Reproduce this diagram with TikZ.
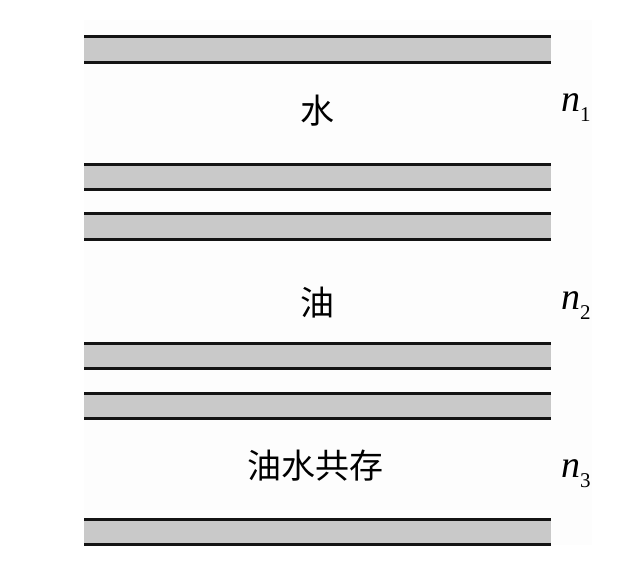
\documentclass[tikz,border=0pt]{standalone}
\usepackage{fontspec}
\setmainfont{Liberation Serif}
\newfontfamily\cjk{Noto Sans CJK SC}
\definecolor{bandgray}{HTML}{C9C9C9}
\definecolor{paper}{HTML}{FDFDFD}
\tikzset{
  bandfill/.style={fill=bandgray, draw=none},
  bandline/.style={line width=3pt, draw=black!92},
  zhlabel/.style={font=\cjk\fontsize{34}{40}\selectfont, anchor=base, inner sep=0pt},
  nlabel/.style={font=\fontsize{38}{44}\selectfont, anchor=base west, inner sep=0pt}
}
\newcommand{\nsub}[1]{\textit{n}\raisebox{-10pt}{\fontsize{21}{24}\selectfont #1}}
\begin{document}
\begin{tikzpicture}[x=1pt,y=-1pt]
\useasboundingbox (0,0) rectangle (627,572);
\fill[paper] (84,20) rectangle (592,545);
% bands: top and bottom y
\foreach \t/\b in {37/63, 165/190, 214/240, 343/368, 393/418, 519/544}{
  \fill[bandfill] (84,\t) rectangle (551,\b);
  \draw[bandline] (84,\t) -- (551,\t);
  \draw[bandline] (84,\b) -- (551,\b);
}
\node[zhlabel] (water) at (317,124) {水};
\node[zhlabel] (oil) at (317,316) {油};
\node[zhlabel] (mix) at (315,478) {油水共存};
\node[nlabel] (n1) at (561,112) {\nsub{1}};
\node[nlabel] (n2) at (561,309) {\nsub{2}};
\node[nlabel] (n3) at (561,477) {\nsub{3}};
\end{tikzpicture}
\end{document}
